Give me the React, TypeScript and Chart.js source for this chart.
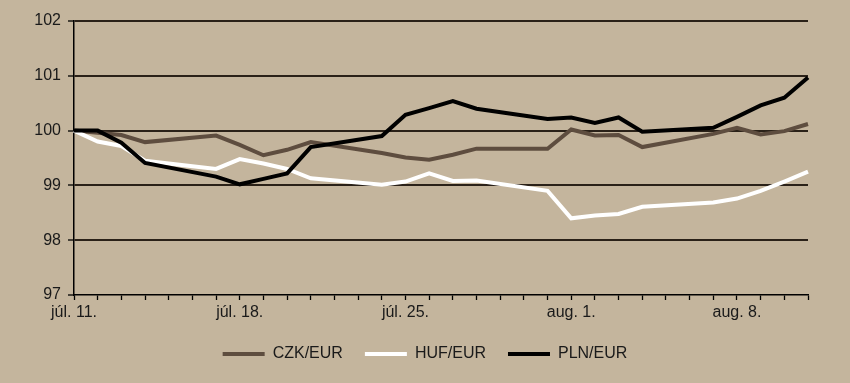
import React, { useEffect, useRef } from "react";
import { Chart, registerables } from "chart.js";

Chart.register(...registerables);

const days = [
  "júl. 11.", "júl. 12.", "júl. 13.", "júl. 14.", "júl. 15.", "júl. 16.", "júl. 17.",
  "júl. 18.", "júl. 19.", "júl. 20.", "júl. 21.", "júl. 22.", "júl. 23.", "júl. 24.",
  "júl. 25.", "júl. 26.", "júl. 27.", "júl. 28.", "júl. 29.", "júl. 30.", "júl. 31.",
  "aug. 1.", "aug. 2.", "aug. 3.", "aug. 4.", "aug. 5.", "aug. 6.", "aug. 7.",
  "aug. 8.", "aug. 9.", "aug. 10.", "aug. 11.",
];

const czk = [
  100, 99.96, 99.92, 99.79, null, null, 99.91, 99.74, 99.55, 99.65, 99.79, null, null,
  99.59, 99.51, 99.47, 99.56, 99.67, null, null, 99.67, 100.02, 99.91, 99.92, 99.7,
  null, null, 99.94, 100.05, 99.93, 99.99, 100.12,
];

const huf = [
  100, 99.8, 99.72, 99.45, null, null, 99.3, 99.48, 99.4, 99.3, 99.13, null, null,
  99.01, 99.07, 99.22, 99.08, 99.09, null, null, 98.9, 98.4, 98.45, 98.48, 98.61,
  null, null, 98.69, 98.76, 98.9, 99.07, 99.25,
];

const pln = [
  100, 100, 99.78, 99.41, null, null, 99.16, 99.02, 99.12, 99.22, 99.7, null, null,
  99.9, 100.29, 100.41, 100.54, 100.4, null, null, 100.21, 100.24, 100.14, 100.24, 99.98,
  null, null, 100.05, 100.25, 100.46, 100.6, 100.97,
];

const seriesNames = ["CZK/EUR", "HUF/EUR", "PLN/EUR"];
const yMin = 97;
const yMax = 102;

const BG = "#C4B59D";
const TEXT = "#1a1a1a";
const FONT = "'Liberation Sans', Arial, sans-serif";

export default function App() {
  const ref = useRef<HTMLCanvasElement | null>(null);

  useEffect(() => {
    document.body.style.margin = "0";
    const canvas = ref.current;
    if (!canvas) return;
    const chart = new Chart(canvas, {
      type: "line",
      data: {
        labels: days,
        datasets: [
          {
            label: seriesNames[0],
            data: czk,
            borderColor: "#5E4D3F",
            backgroundColor: "#5E4D3F",
            borderWidth: 4,
            order: 2,
          },
          {
            label: seriesNames[1],
            data: huf,
            borderColor: "#FFFFFF",
            backgroundColor: "#FFFFFF",
            borderWidth: 4,
            order: 1,
          },
          {
            label: seriesNames[2],
            data: pln,
            borderColor: "#000000",
            backgroundColor: "#000000",
            borderWidth: 4,
            order: 0,
          },
        ],
      },
      options: {
        animation: false,
        responsive: false,
        maintainAspectRatio: false,
        spanGaps: true,
        elements: {
          point: { radius: 0, hoverRadius: 0 },
          line: { tension: 0, borderJoinStyle: "miter", borderCapStyle: "butt" },
        },
        layout: { padding: { top: 21, right: 0, bottom: 11, left: 0 } },
        plugins: {
          tooltip: { enabled: false },
          legend: {
            position: "bottom",
            labels: {
              boxWidth: 42,
              boxHeight: 4,
              padding: 22,
              color: TEXT,
              font: { family: FONT, size: 16 },
              sort: (a: any, b: any) => a.datasetIndex - b.datasetIndex,
              generateLabels: (c: any) =>
                Chart.defaults.plugins.legend.labels
                  .generateLabels(c)
                  .map((it: any) => ({ ...it, lineWidth: 0, fillStyle: it.strokeStyle })),
            },
          },
        },
        scales: {
          x: {
            type: "category",
            offset: false,
            afterFit: (s: any) => {
              s.height = 29;
            },
            grid: {
              drawOnChartArea: false,
              drawTicks: true,
              tickLength: 5,
              tickColor: "#000",
              tickWidth: 1.3,
            },
            border: { display: true, color: "#000", width: 1.5 },
            ticks: {
              autoSkip: false,
              maxRotation: 0,
              minRotation: 0,
              padding: 3,
              color: TEXT,
              font: { family: FONT, size: 16 },
              callback: (_v: any, i: number) => (i % 7 === 0 ? days[i] : " "),
            },
          },
          y: {
            min: yMin,
            max: yMax,
            afterFit: (s: any) => {
              s.width = 74;
            },
            grid: {
              color: (ctx: any) => (ctx.tick && ctx.tick.value === yMin ? "rgba(0,0,0,0)" : "#2a2118"),
              lineWidth: 2,
              borderDash: [2, 2.5],
              drawTicks: true,
              tickLength: 6,
              tickColor: "#000",
              tickWidth: 1.3,
              tickBorderDash: [],
            },
            border: { display: true, color: "#000", width: 1.5 },
            ticks: {
              stepSize: 1,
              padding: 7,
              color: TEXT,
              font: { family: FONT, size: 16 },
            },
          },
          yRight: {
            type: "linear",
            position: "right",
            min: yMin,
            max: yMax,
            afterFit: (s: any) => {
              s.width = 42;
            },
            grid: { display: false, drawTicks: false },
            border: { display: false },
            ticks: { display: false },
          },
        },
      },
    });
    return () => chart.destroy();
  }, []);

  return (
    <div style={{ width: 850, height: 383, background: BG }}>
      <canvas ref={ref} width={850} height={383} style={{ display: "block" }} />
    </div>
  );
}
